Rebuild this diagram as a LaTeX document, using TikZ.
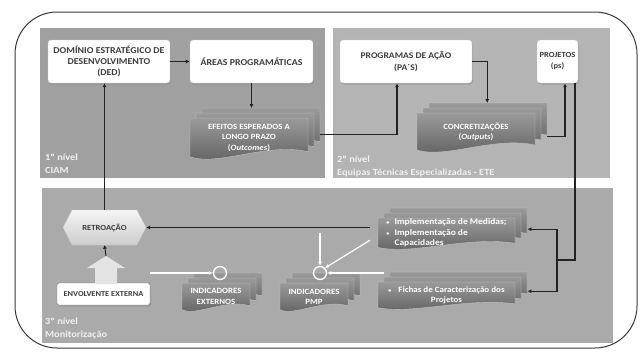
\documentclass[tikz,border=0pt]{standalone}
\usepackage{fontspec}
\setmainfont{Carlito}[FakeStretch=1.1]
\usetikzlibrary{shapes.symbols,shadows,arrows.meta}
\definecolor{panelA}{HTML}{A0A0A0}
\definecolor{panelB}{HTML}{B4B4B4}
\definecolor{panelC}{HTML}{AAAAAA}
\definecolor{frameC}{HTML}{3A3A3A}
\definecolor{boxedge}{HTML}{C8C8C8}
\definecolor{boxtxt}{HTML}{3C3C3C}
\definecolor{lineblk}{HTML}{222222}
\definecolor{stkTop}{HTML}{9A9A9A}
\definecolor{stkMid}{HTML}{6E6E6E}
\definecolor{stkBot}{HTML}{5E5E5E}
\definecolor{stkEdge}{HTML}{C4C4C4}
\definecolor{lbltxt}{HTML}{F0F0F0}
\definecolor{retroTop}{HTML}{F4F4F4}
\definecolor{retroBot}{HTML}{CDCDCD}
\definecolor{fatC}{HTML}{E4E4E4}
\newcommand{\smbul}{{\fontsize{5.5}{5.5}\selectfont\textbullet}}
\tikzset{
  wbox/.style={draw=boxedge, fill=white, rounded corners=3pt, inner sep=1pt, align=center,
    text=boxtxt, drop shadow={shadow xshift=1pt, shadow yshift=-1.5pt, opacity=.45}},
  stktext/.style={align=center, inner sep=0pt, text=white},
  lbl/.style={anchor=north west, align=left, inner sep=0pt, text=lbltxt, font=\fontsize{9.4}{12.5}\selectfont\bfseries},
  blk/.style={draw=lineblk, line width=1.2pt, -{Latex[length=4pt,width=4pt]}},
  blkline/.style={draw=lineblk, line width=1.2pt},
  wht/.style={draw=white, line width=1.2pt, -{Latex[length=4pt,width=4pt]}},
  ring/.style={circle, draw=white, line width=1.3pt, minimum size=13pt, inner sep=0pt},
}
\newcommand{\mpage}[4]{%
  \shade[top color=stkTop, middle color=stkMid, bottom color=stkBot, draw=stkEdge, line width=0.4pt]
    ({#1},{#2}) -- ({#1+#3},{#2}) -- ({#1+#3},{#2+0.84*#4})
    .. controls ({#1+0.68*#3},{#2+0.66*#4}) and ({#1+0.32*#3},{#2+1.12*#4}) .. ({#1},{#2+0.94*#4}) -- cycle;}
% name, x, y, W, H, font size, text
\newcommand{\mstack}[7]{%
  \node[minimum width=#4, minimum height=#5, inner sep=0pt, anchor=north west] (#1) at ({#2},{#3}) {};
  \mpage{#2+12}{#3}{#4-12}{#5-10}
  \mpage{#2+6}{#3+5}{#4-12}{#5-10}
  \mpage{#2}{#3+10}{#4-12}{#5-10}
  \node[stktext, font=\fontsize{#6}{10.5}\selectfont\bfseries] (#1-t) at ({#2+(#4-12)/2},{#3+10+(#5-10)*0.47}) {#7};}
\begin{document}
\begin{tikzpicture}[x=1pt,y=-1pt]
\useasboundingbox (0,0) rectangle (643,351);
\fill[white] (0,0) rectangle (643,351);
% outer frame
\draw[frameC, line width=1pt, rounded corners=42pt] (15,12) rectangle (637,348);
% panels
\fill[panelA] (40,28) rectangle (325,178);
\fill[panelB] (333,28) rectangle (610,178);
\fill[panelC] (42,188) rectangle (613,343);
% panel labels
\node[lbl] (l1) at (45,154) {1º nível\\CIAM};
\node[lbl] (l2) at (337,156) {2º nível\\Equipas Técnicas Especializadas - ETE};
\node[lbl] (l3) at (45,318) {3º nível\\Monitorização};
% white boxes
\node[wbox, minimum width=122pt, minimum height=43pt, font=\fontsize{9}{11}\selectfont\bfseries] (ded) at (109,61.5) {DOMÍNIO ESTRATÉGICO DE\\DESENVOLVIMENTO\\(DED)};
\node[wbox, minimum width=123pt, minimum height=43pt, font=\fontsize{9}{11}\selectfont\bfseries] (areas) at (251.5,61.5) {ÁREAS PROGRAMÁTICAS};
\node[wbox, minimum width=132pt, minimum height=43pt, font=\fontsize{8.7}{11.5}\selectfont\bfseries] (prog) at (406,61.5) {PROGRAMAS DE AÇÃO\\(PA´S)};
\node[wbox, minimum width=41pt, minimum height=43pt, font=\fontsize{7.8}{11}\selectfont\bfseries] (proj) at (557.5,61.5) {PROJETOS\\(ps)};
% stacks
\mstack{efe}{190}{108}{130}{52}{8}{EFEITOS ESPERADOS A\\LONGO PRAZO\\(\textit{Outcomes})}
\mstack{conc}{417}{103}{130}{50}{8}{CONCRETIZAÇÕES\\(\textit{Outputs})}
\mstack{impl}{378}{208}{149}{42}{8.6}{\begin{tabular}{@{}l@{\hspace{5pt}}l@{}}\smbul & Implementação de Medidas;\\ \smbul & Implementação de\\ & Capacidades\end{tabular}}
\mstack{fichas}{378}{272}{149}{38}{8.2}{\smbul\hspace{5pt} Fichas de Caracterização dos\\Projetos}
\mstack{ext}{182}{273}{80}{39}{8}{INDICADORES\\EXTERNOS}
\mstack{pmp}{280}{273}{80}{39}{8}{INDICADORES\\PMP}
% rings
\node[ring] (extc) at (220,273) {};
\node[ring] (pmpc) at (320,273) {};
% retroacao
\node[signal, signal to=west and east, signal pointer angle=125, minimum width=83pt, minimum height=35pt,
  top color=retroTop, bottom color=retroBot, draw=boxedge, inner sep=1pt,
  font=\fontsize{7.8}{10}\selectfont\bfseries, text=boxtxt] (retro) at (104.5,227.5) {RETROAÇÃO};
% envolvente externa
\node[wbox, rounded corners=1.5pt, minimum width=93pt, minimum height=22pt, draw=frameC!70,
  font=\fontsize{7.6}{10}\selectfont\bfseries] (env) at (103.5,294) {ENVOLVENTE EXTERNA};
% fat arrow
\fill[fatC] (95,284) -- (95,268) -- (87,268) -- (106,256) -- (125,268) -- (117,268) -- (117,284) -- cycle;
\coordinate (fattip) at (106,256);
% connectors
\draw[blk] (ded) -- (areas);
\draw[blk] (areas.south) -- (areas.south |- efe.north);
\draw[blk] (efe.east) -| ([xshift=-9pt]prog.south);
\draw[blk] (prog.east) -| ([xshift=5pt]conc.north);
\draw[blk] ([yshift=-8pt]conc.east) -| ([xshift=7.5pt]proj.south);
\coordinate (jn) at (557,260);
\draw[blkline] ([xshift=17.5pt]proj.south) |- (jn);
\draw[blk] (jn) |- (impl.east);
\draw[blk] (jn) |- (fichas.east);
\draw[blk] ([xshift=-8pt]impl.west |- retro.east) -- (retro.east);
\draw[blk] (retro.north) -- (retro.north |- ded.south);
\draw[draw=lineblk, line width=1pt, -{Latex[length=3.5pt,width=4pt]}] (fattip) -- (retro.south);
% white arrows
\draw[wht] (env.north east |- extc.west) -- (extc.west);
\coordinate (vstart) at (320,233);
\draw[wht] (vstart) -- (pmpc.north);
\draw[wht] ([xshift=-8pt,yshift=-11pt]impl.west) -- (pmpc.north east);
\draw[wht] ([xshift=6pt]fichas.west |- pmpc.east) -- (pmpc.east);
\end{tikzpicture}
\end{document}
